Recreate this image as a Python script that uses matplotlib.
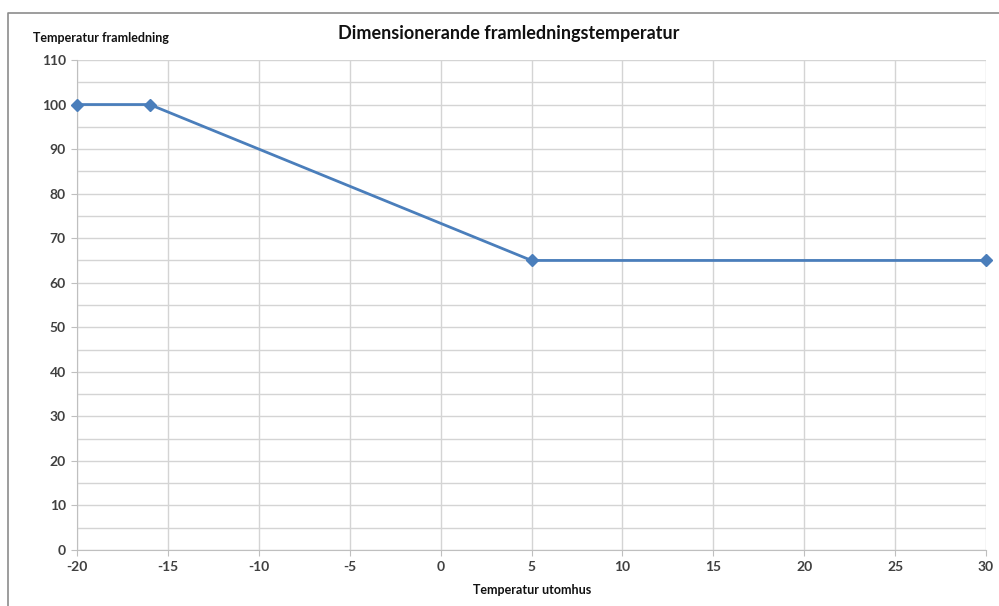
import numpy as np
import matplotlib.pyplot as plt
from matplotlib.lines import Line2D

plt.rcParams['font.family'] = ['Lato', 'DejaVu Sans']
plt.rcParams['axes.unicode_minus'] = False

ute = [-20, -16, 5, 30]
fram = [100, 100, 65, 65]

x_ticks = list(range(-20, 31, 5))
y_ticks = list(range(0, 111, 10))

fig = plt.figure(figsize=(9.99, 6.06), dpi=100)
ax = fig.add_axes([0.0771, 0.0924, 0.987 - 0.0771, 0.901 - 0.0924])

ax.plot(ute, fram, color="#4a7ebb", lw=2, marker="D", ms=6, zorder=3, clip_on=False)

ax.set_xlim(-20, 30)
ax.set_ylim(0, 110)
ax.set_xticks(x_ticks)
ax.set_yticks(y_ticks)
ax.set_yticks(np.arange(5, 110, 10), minor=True)
ax.grid(True, which="both", color="#d4d4d4", lw=1)
ax.set_axisbelow(True)

for s in ["top", "right"]:
    ax.spines[s].set_visible(False)
for s in ["left", "bottom"]:
    ax.spines[s].set_color("#bfbfbf")
ax.tick_params(which="major", length=4, color="#bfbfbf", labelsize=10,
               labelcolor="#404040", pad=4)
ax.tick_params(which="minor", length=0)
for lab in ax.get_xticklabels() + ax.get_yticklabels():
    lab.set_fontweight("bold")

fig.text(0.509, 0.945, "Dimensionerande framledningstemperatur", ha="center",
         va="center", fontsize=13, fontweight="bold", color="#111111")
fig.text(0.033, 0.937, "Temperatur framledning", ha="left", va="center",
         fontsize=9, fontweight="bold", color="#111111")
fig.text(0.533, 0.026, "Temperatur utomhus", ha="center", va="center",
         fontsize=9, fontweight="bold", color="#111111")

# outer chart frame
fig.add_artist(Line2D([7.5 / 999, 7.5 / 999, 1], [0, 1 - 12.5 / 606, 1 - 12.5 / 606],
                      transform=fig.transFigure, color="#8c8c8c", lw=1.2))

fig.savefig("out.png", dpi=100, facecolor="white")
